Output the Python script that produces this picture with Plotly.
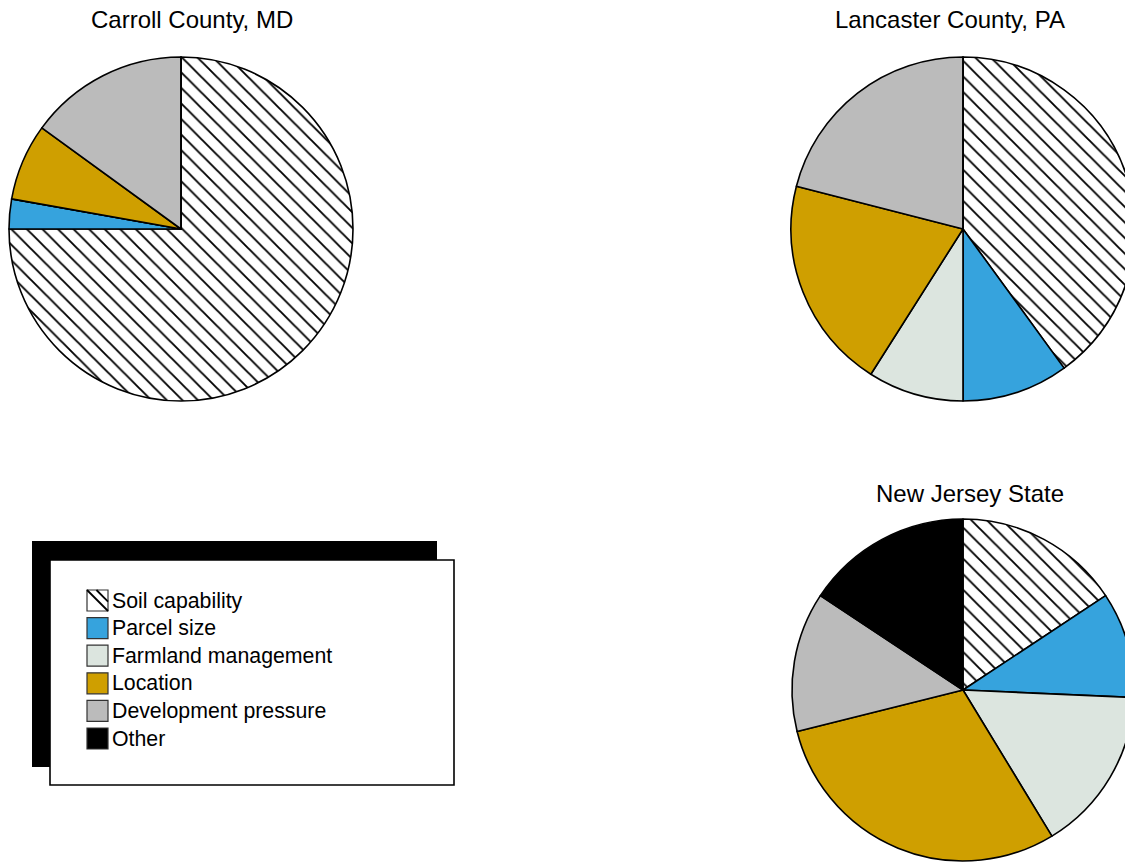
import plotly.graph_objects as go

# ---------------- data ----------------
categories = ["Soil capability", "Parcel size", "Farmland management",
              "Location", "Development pressure", "Other"]
colors = ["#FFFFFF", "#36A3DD", "#DCE5DF", "#CF9F00", "#BBBBBB", "#000000"]
patterns = ["\\", "", "", "", "", ""]

carroll = [75, 2.8, 0, 7.2, 15, 0]
lancaster = [40, 10, 9, 20, 21, 0]
new_jersey = [15.7, 10, 15.6, 29.8, 13.2, 15.7]
titles = ["Carroll County, MD", "Lancaster County, PA", "New Jersey State"]

# ---------------- layout helpers ----------------
W, H = 1140, 863
FONT = "Liberation Sans, Arial, Helvetica, sans-serif"


def px(x):
    return x / W


def py(y):
    return 1 - y / H


# pie centre (px), radius (px), title position (px)
pie_specs = [
    (carroll, 181, 229, 172, 192, 19),
    (lancaster, 963, 229, 172, 950, 19),
    (new_jersey, 963, 690, 171, 970, 493),
]

fig = go.Figure()
annotations = []
shapes = []

for (vals, cx, cy, r, tx, ty), title in zip(pie_specs, titles):
    fig.add_trace(go.Pie(
        labels=categories,
        values=vals,
        sort=False,
        direction="clockwise",
        rotation=0,
        textinfo="none",
        hoverinfo="label+percent",
        showlegend=False,
        marker=dict(
            colors=colors,
            line=dict(color="#000000", width=1.6),
            pattern=dict(shape=patterns, fgcolor="#000000", bgcolor="#FFFFFF",
                         size=11, solidity=0.17, fillmode="replace"),
        ),
        domain=dict(x=[px(cx - r), px(cx + r)], y=[py(cy + r), py(cy - r)]),
        name=title,
    ))
    annotations.append(dict(
        x=px(tx), y=py(ty), xref="paper", yref="paper",
        text=title, showarrow=False, xanchor="center", yanchor="middle",
        font=dict(family=FONT, size=24, color="#000000"),
    ))

# ---------------- custom legend box ----------------
shapes.append(dict(type="rect", xref="paper", yref="paper",
                   x0=px(32), x1=px(437), y0=py(767), y1=py(541),
                   fillcolor="#000000", line=dict(width=0), layer="above"))
shapes.append(dict(type="rect", xref="paper", yref="paper",
                   x0=px(50), x1=px(454), y0=py(785), y1=py(560),
                   fillcolor="#FFFFFF", line=dict(color="#000000", width=1.6),
                   layer="above"))

sym_x0, sym = 87, 21
row0, row_gap = 600.5, 27.6
for i, (cat, col, pat) in enumerate(zip(categories, colors, patterns)):
    yc = row0 + i * row_gap
    y0, y1 = yc - sym / 2, yc + sym / 2
    x0, x1 = sym_x0, sym_x0 + sym
    shapes.append(dict(type="rect", xref="paper", yref="paper",
                       x0=px(x0), x1=px(x1), y0=py(y1), y1=py(y0),
                       fillcolor=col, line=dict(color="#333333", width=1.2),
                       layer="above"))
    if pat:
        shapes.append(dict(type="line", xref="paper", yref="paper",
                           x0=px(x0), y0=py(y0), x1=px(x1), y1=py(y1),
                           line=dict(color="#000000", width=1.8), layer="above"))
        shapes.append(dict(type="line", xref="paper", yref="paper",
                           x0=px(x0 + 0.45 * sym), y0=py(y0),
                           x1=px(x1), y1=py(y0 + 0.55 * sym),
                           line=dict(color="#000000", width=1.8), layer="above"))
    annotations.append(dict(
        x=px(x1 + 2), y=py(yc), xref="paper", yref="paper",
        text=cat, showarrow=False, xanchor="left", yanchor="middle",
        font=dict(family=FONT, size=21.3, color="#000000"),
    ))

fig.update_layout(
    width=W, height=H, autosize=False,
    margin=dict(l=0, r=0, t=0, b=0, pad=0),
    paper_bgcolor="#FFFFFF", plot_bgcolor="#FFFFFF",
    font=dict(family=FONT, color="#000000"),
    annotations=annotations,
    shapes=shapes,
    showlegend=False,
)

fig.write_html(
    "out.html",
    config={"displayModeBar": False},
    post_script="document.body.style.margin='0';document.body.style.overflow='hidden';",
)
